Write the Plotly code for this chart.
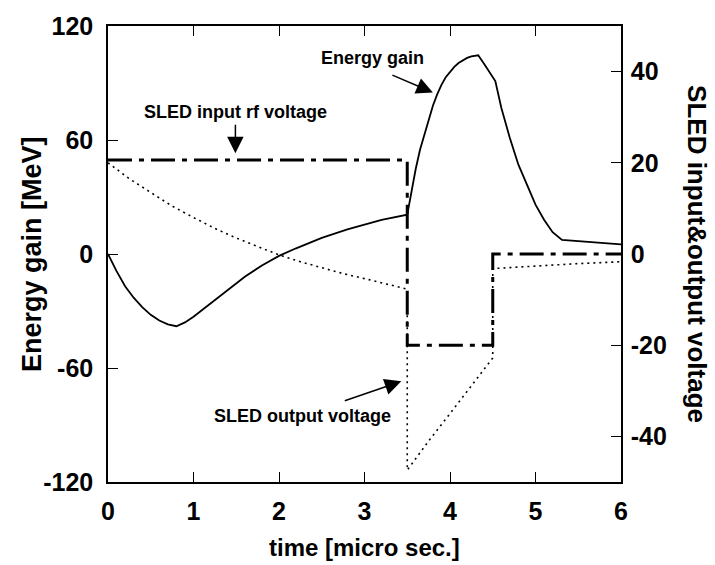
import plotly.graph_objects as go

# ---- data ----
t_energy = [0, 0.1, 0.2, 0.3, 0.4, 0.5, 0.6, 0.7, 0.8, 0.9, 1.0, 1.2, 1.4, 1.6, 1.8,
            2.0, 2.2, 2.5, 2.8, 3.0, 3.2, 3.5, 3.55, 3.6, 3.65, 3.7, 3.75, 3.8, 3.85,
            3.9, 3.95, 4.0, 4.05, 4.1, 4.15, 4.2, 4.25, 4.33, 4.4, 4.53, 4.6, 4.7,
            4.8, 4.9, 5.0, 5.1, 5.2, 5.31, 6.0]
energy_gain = [0, -9, -17, -23, -28, -32, -35, -37, -38, -36, -33, -26, -19, -12, -6,
               -1, 3, 8.5, 13, 15.5, 18, 20.7, 33, 45, 55, 63, 71, 78, 84,
               89, 93, 96, 98.5, 100.5, 102, 103.2, 104, 104.6, 100, 91, 77, 61,
               47, 36, 26, 18, 11.5, 7.4, 5.1]

t_input = [0, 3.5, 3.5, 4.5, 4.5, 6]
sled_input = [20.6, 20.6, -20, -20, 0, 0]

t_output = [0, 0.25, 0.5, 0.75, 1.0, 1.25, 1.5, 1.75, 2.0, 2.25, 2.5, 2.75, 3.0,
            3.25, 3.5, 3.5, 3.75, 4.0, 4.25, 4.5, 4.5, 5.0, 5.5, 6.0]
sled_output = [20, 16.5, 13.5, 10.5, 8.0, 5.6, 3.5, 1.6, -0.2, -1.7, -3.0, -4.3, -5.4,
               -6.6, -7.7, -47.4, -41, -35, -29, -22.8, -3.2, -2.6, -2.1, -1.7]

x_ticks = [0, 1, 2, 3, 4, 5, 6]
y_left_ticks = [-120, -60, 0, 60, 120]
y_left_text = ["-120", "-60", "0", "60", "120"]
y_right_ticks = [-40, -20, 0, 20, 40]
y_right_text = ["-40", "-20", "0", "20", "40"]

FONT = "Liberation Sans"

fig = go.Figure()
fig.add_trace(go.Scatter(x=t_energy, y=energy_gain, mode="lines",
                         line=dict(color="black", width=1.8), yaxis="y"))
fig.add_trace(go.Scatter(x=t_input, y=sled_input, mode="lines",
                         line=dict(color="black", width=3, dash="24px,7px,5px,7px"),
                         yaxis="y2"))
fig.add_trace(go.Scatter(x=t_output, y=sled_output, mode="lines",
                         line=dict(color="black", width=1.6, dash="2px,4px"),
                         yaxis="y2"))

axis_common = dict(showline=True, linecolor="black", linewidth=1.5, ticks="inside",
                   ticklen=10, tickcolor="black", tickwidth=1.2, showgrid=False,
                   zeroline=False,
                   tickfont=dict(family=FONT, size=25, color="black", weight="bold"))

fig.update_layout(
    width=715, height=565,
    margin=dict(l=108, r=94, t=21, b=83),
    paper_bgcolor="white", plot_bgcolor="white",
    showlegend=False,
    xaxis=dict(range=[0, 6], tickvals=x_ticks, mirror="ticks",
               ticklabelstandoff=6, **axis_common),
    yaxis=dict(range=[-120, 120], tickvals=y_left_ticks, ticktext=y_left_text,
               ticklabelstandoff=8, **axis_common),
    yaxis2=dict(range=[-50, 50], tickvals=y_right_ticks, ticktext=y_right_text,
                overlaying="y", side="right", ticklabelstandoff=3, **axis_common),
    annotations=[
        dict(text="<b>time [micro sec.]</b>", xref="paper", yref="paper", x=0.5,
             y=-0.143, showarrow=False,
             font=dict(family=FONT, size=24, color="black"),
             xanchor="center", yanchor="middle"),
        dict(text="<b>Energy gain [MeV]</b>", xref="paper", yref="paper", x=-0.148,
             y=0.5, textangle=-90, showarrow=False,
             font=dict(family=FONT, size=27, color="black"),
             xanchor="center", yanchor="middle"),
        dict(text="<b>SLED input&output voltage</b>", xref="paper", yref="paper",
             x=1.148, y=0.5, textangle=90, showarrow=False,
             font=dict(family=FONT, size=26, color="black"),
             xanchor="center", yanchor="middle"),
        # text labels
        dict(text="<b>SLED input rf voltage</b>", x=1.49, y=75, xref="x", yref="y",
             showarrow=False, font=dict(family=FONT, size=18, color="black")),
        dict(text="<b>Energy gain</b>", x=3.09, y=103, xref="x", yref="y",
             showarrow=False, font=dict(family=FONT, size=18, color="black")),
        dict(text="<b>SLED output voltage</b>", x=2.27, y=-85, xref="x", yref="y",
             showarrow=False, font=dict(family=FONT, size=18, color="black")),
        # arrows
        dict(text="", x=1.49, y=53, xref="x", yref="y", ax=0, ay=-30,
             showarrow=True, arrowhead=2, arrowsize=2.2, arrowwidth=1.5,
             arrowcolor="black"),
        dict(text="", x=3.8, y=85, xref="x", yref="y", ax=-42, ay=-18,
             showarrow=True, arrowhead=2, arrowsize=2.2, arrowwidth=1.5,
             arrowcolor="black"),
        dict(text="", x=3.43, y=-67, xref="x", yref="y", ax=-58, ay=20,
             showarrow=True, arrowhead=2, arrowsize=2.2, arrowwidth=1.5,
             arrowcolor="black"),
    ],
)

fig.write_html("out.html")
